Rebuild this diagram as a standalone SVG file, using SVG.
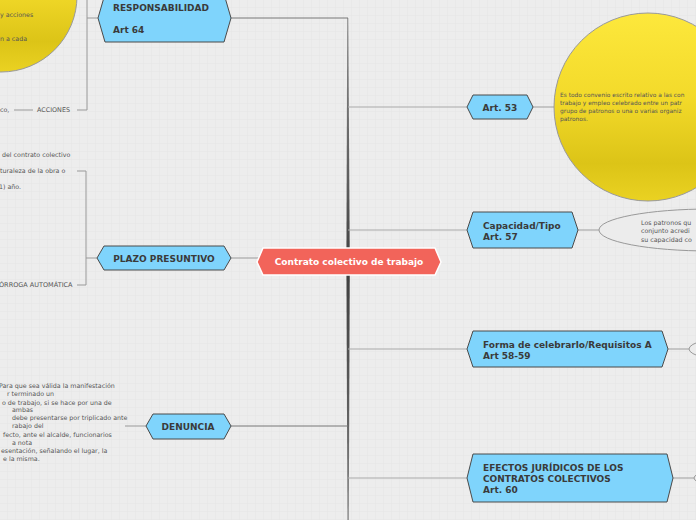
<svg xmlns="http://www.w3.org/2000/svg" width="696" height="520" viewBox="0 0 696 520">
<defs>
<pattern id="grid" width="8" height="8" patternUnits="userSpaceOnUse">
<rect width="8" height="8" fill="#ededed"/>
<path d="M8 0V8H0" fill="none" stroke="#e3e3e3" stroke-width="0.6"/>
</pattern>
<linearGradient id="yel" x1="0" y1="0" x2="0" y2="1">
<stop offset="0" stop-color="#fde83c"/>
<stop offset="0.45" stop-color="#f3da2a"/>
<stop offset="0.8" stop-color="#dcc417"/>
<stop offset="1" stop-color="#ead222"/>
</linearGradient>
<linearGradient id="spine" x1="0" y1="18" x2="0" y2="520" gradientUnits="userSpaceOnUse">
<stop offset="0" stop-color="#8a8a8a"/>
<stop offset="0.35" stop-color="#5a5a5a"/>
<stop offset="0.5" stop-color="#3f3f3f"/>
<stop offset="0.75" stop-color="#5a5a5a"/>
<stop offset="1" stop-color="#8a8a8a"/>
</linearGradient>
<style>
.hex{fill:#7fd4fc;stroke:#4a4a4a;stroke-width:1}
.nt{font-family:"DejaVu Sans",Verdana,sans-serif;font-weight:bold;font-size:9px;fill:#3a3a3a}
.st{font-family:"DejaVu Sans",Verdana,sans-serif;font-size:6.3px;fill:#555}
.ln{fill:none;stroke:#999;stroke-width:1}
.lr{fill:none;stroke:#aaa;stroke-width:1.2}
</style>
</defs>
<rect width="696" height="520" fill="url(#grid)"/>

<g id="connectors">
<polygon points="347.2,18 348.3,18 349.8,262 348.8,520 347.4,520 346.4,262" fill="url(#spine)"/>
<path d="M231 18H348" fill="none" stroke="#777" stroke-width="1"/>
<path d="M231 426H348" fill="none" stroke="#777" stroke-width="1"/>
<path class="ln" d="M231 258H259"/>
<path class="lr" d="M348 107H467"/>
<path class="lr" d="M348 230H467"/>
<path class="lr" d="M348 349H467"/>
<path class="lr" d="M348 478H467"/>
<path class="lr" d="M533 107H554"/>
<path class="lr" d="M578 230H599"/>
<path class="lr" d="M668 349H689"/>
<path class="lr" d="M673 478H694"/>
<path class="ln" d="M87 0V110M87 18H98M77 110H87"/>
<path class="ln" d="M14 110H33"/>
<path class="ln" d="M77 171H86V285H77M86 258H97"/>
<path class="ln" d="M125 426H146"/>
</g>

<g id="circle-top-left">
<circle cx="1" cy="-4" r="76" fill="url(#yel)" stroke="#999" stroke-width="1"/>
<text class="st" x="0" y="17">y acciones</text>
<text class="st" x="0" y="41">n a cada</text>
</g>

<g id="acciones">
<text class="st" x="0" y="112">co,</text>
<text class="st" x="37" y="112" style="font-size:6.4px">ACCIONES</text>
</g>

<g id="responsabilidad">
<polygon class="hex" points="98,18 105,-6 224,-6 231,18 224,42 105,42"/>
<text class="nt" x="113" y="11">RESPONSABILIDAD</text>
<text class="nt" x="113" y="33">Art 64</text>
</g>

<g id="plazo-texts">
<text class="st" x="2" y="157">del contrato colectivo</text>
<text class="st" x="0" y="173">turaleza de la obra o</text>
<text class="st" x="-1" y="189">1) año.</text>
<text class="st" x="-1" y="287" style="font-size:6.5px">ÓRROGA AUTOMÁTICA</text>
</g>

<g id="plazo">
<polygon class="hex" points="97,258 104,246 224,246 231,258 224,270 104,270"/>
<text class="nt" x="164" y="261.5" text-anchor="middle">PLAZO PRESUNTIVO</text>
</g>

<g id="denuncia-texts">
<text class="st" x="-1" y="388">Para que sea válida la manifestación</text>
<text class="st" x="7" y="396">r terminado un</text>
<text class="st" x="2" y="405">o de trabajo, si se hace por una de</text>
<text class="st" x="12" y="412">ambas</text>
<text class="st" x="12" y="420">debe presentarse por triplicado ante</text>
<text class="st" x="12" y="428">rabajo del</text>
<text class="st" x="3" y="437">fecto, ante el alcalde, funcionarios</text>
<text class="st" x="12" y="445">a nota</text>
<text class="st" x="1" y="453">esentación, señalando el lugar, la</text>
<text class="st" x="3" y="461">e la misma.</text>
</g>

<g id="denuncia">
<polygon class="hex" points="146,426 153,414 224,414 231,426 224,439 153,439"/>
<text class="nt" x="188" y="429.5" text-anchor="middle">DENUNCIA</text>
</g>

<g id="central">
<polygon points="257,262 263,248 435,248 441,262 435,275 263,275" fill="#f2645a" stroke="#ffffff" stroke-width="1.5"/>
<text class="nt" x="349" y="265" text-anchor="middle" style="fill:#ffffff">Contrato colectivo de trabajo</text>
</g>

<g id="art53">
<polygon class="hex" points="467,107 473,95 527,95 533,107 527,119 473,119"/>
<text class="nt" x="500" y="110.5" text-anchor="middle">Art. 53</text>
</g>

<g id="circle-art53">
<circle cx="648" cy="107" r="94" fill="url(#yel)" stroke="#999" stroke-width="1"/>
<text class="st" x="560" y="96.5" style="font-size:5.9px">Es todo convenio escrito relativo a las con</text>
<text class="st" x="560" y="104.5" style="font-size:5.9px">trabajo y empleo celebrado entre un patr</text>
<text class="st" x="560" y="112.5" style="font-size:5.9px">grupo de patronos o una o varias organiz</text>
<text class="st" x="560" y="120.5" style="font-size:5.9px">patronos.</text>
</g>

<g id="capacidad">
<polygon class="hex" points="467,230 473,212 572,212 578,230 572,248 473,248"/>
<text class="nt" x="483" y="228.5">Capacidad/Tipo</text>
<text class="nt" x="483" y="239.5">Art. 57</text>
</g>

<g id="ellipse-capacidad">
<ellipse cx="710" cy="230" rx="111" ry="21" fill="#ececec" stroke="#999" stroke-width="1"/>
<text class="st" x="641" y="225">Los patronos qu</text>
<text class="st" x="641" y="233">conjunto acredi</text>
<text class="st" x="641" y="241.5">su capacidad co</text>
</g>

<g id="forma">
<polygon class="hex" points="467,349 473,331 662,331 668,349 662,367 473,367"/>
<text class="nt" x="483" y="347.5">Forma de celebrarlo/Requisitos A</text>
<text class="nt" x="483" y="358.5">Art 58-59</text>
</g>

<g id="ellipse-forma">
<ellipse cx="740" cy="349" rx="51" ry="12" fill="#ececec" stroke="#999" stroke-width="1"/>
</g>

<g id="efectos">
<polygon class="hex" points="467,478 473,454 667,454 673,478 667,502 473,502"/>
<text class="nt" x="483" y="470.5">EFECTOS JURÍDICOS DE LOS</text>
<text class="nt" x="483" y="481.5">CONTRATOS COLECTIVOS</text>
<text class="nt" x="483" y="492.5">Art. 60</text>
</g>

<g id="ellipse-efectos">
<ellipse cx="740" cy="478" rx="46" ry="10" fill="#ececec" stroke="#999" stroke-width="1"/>
</g>
</svg>
